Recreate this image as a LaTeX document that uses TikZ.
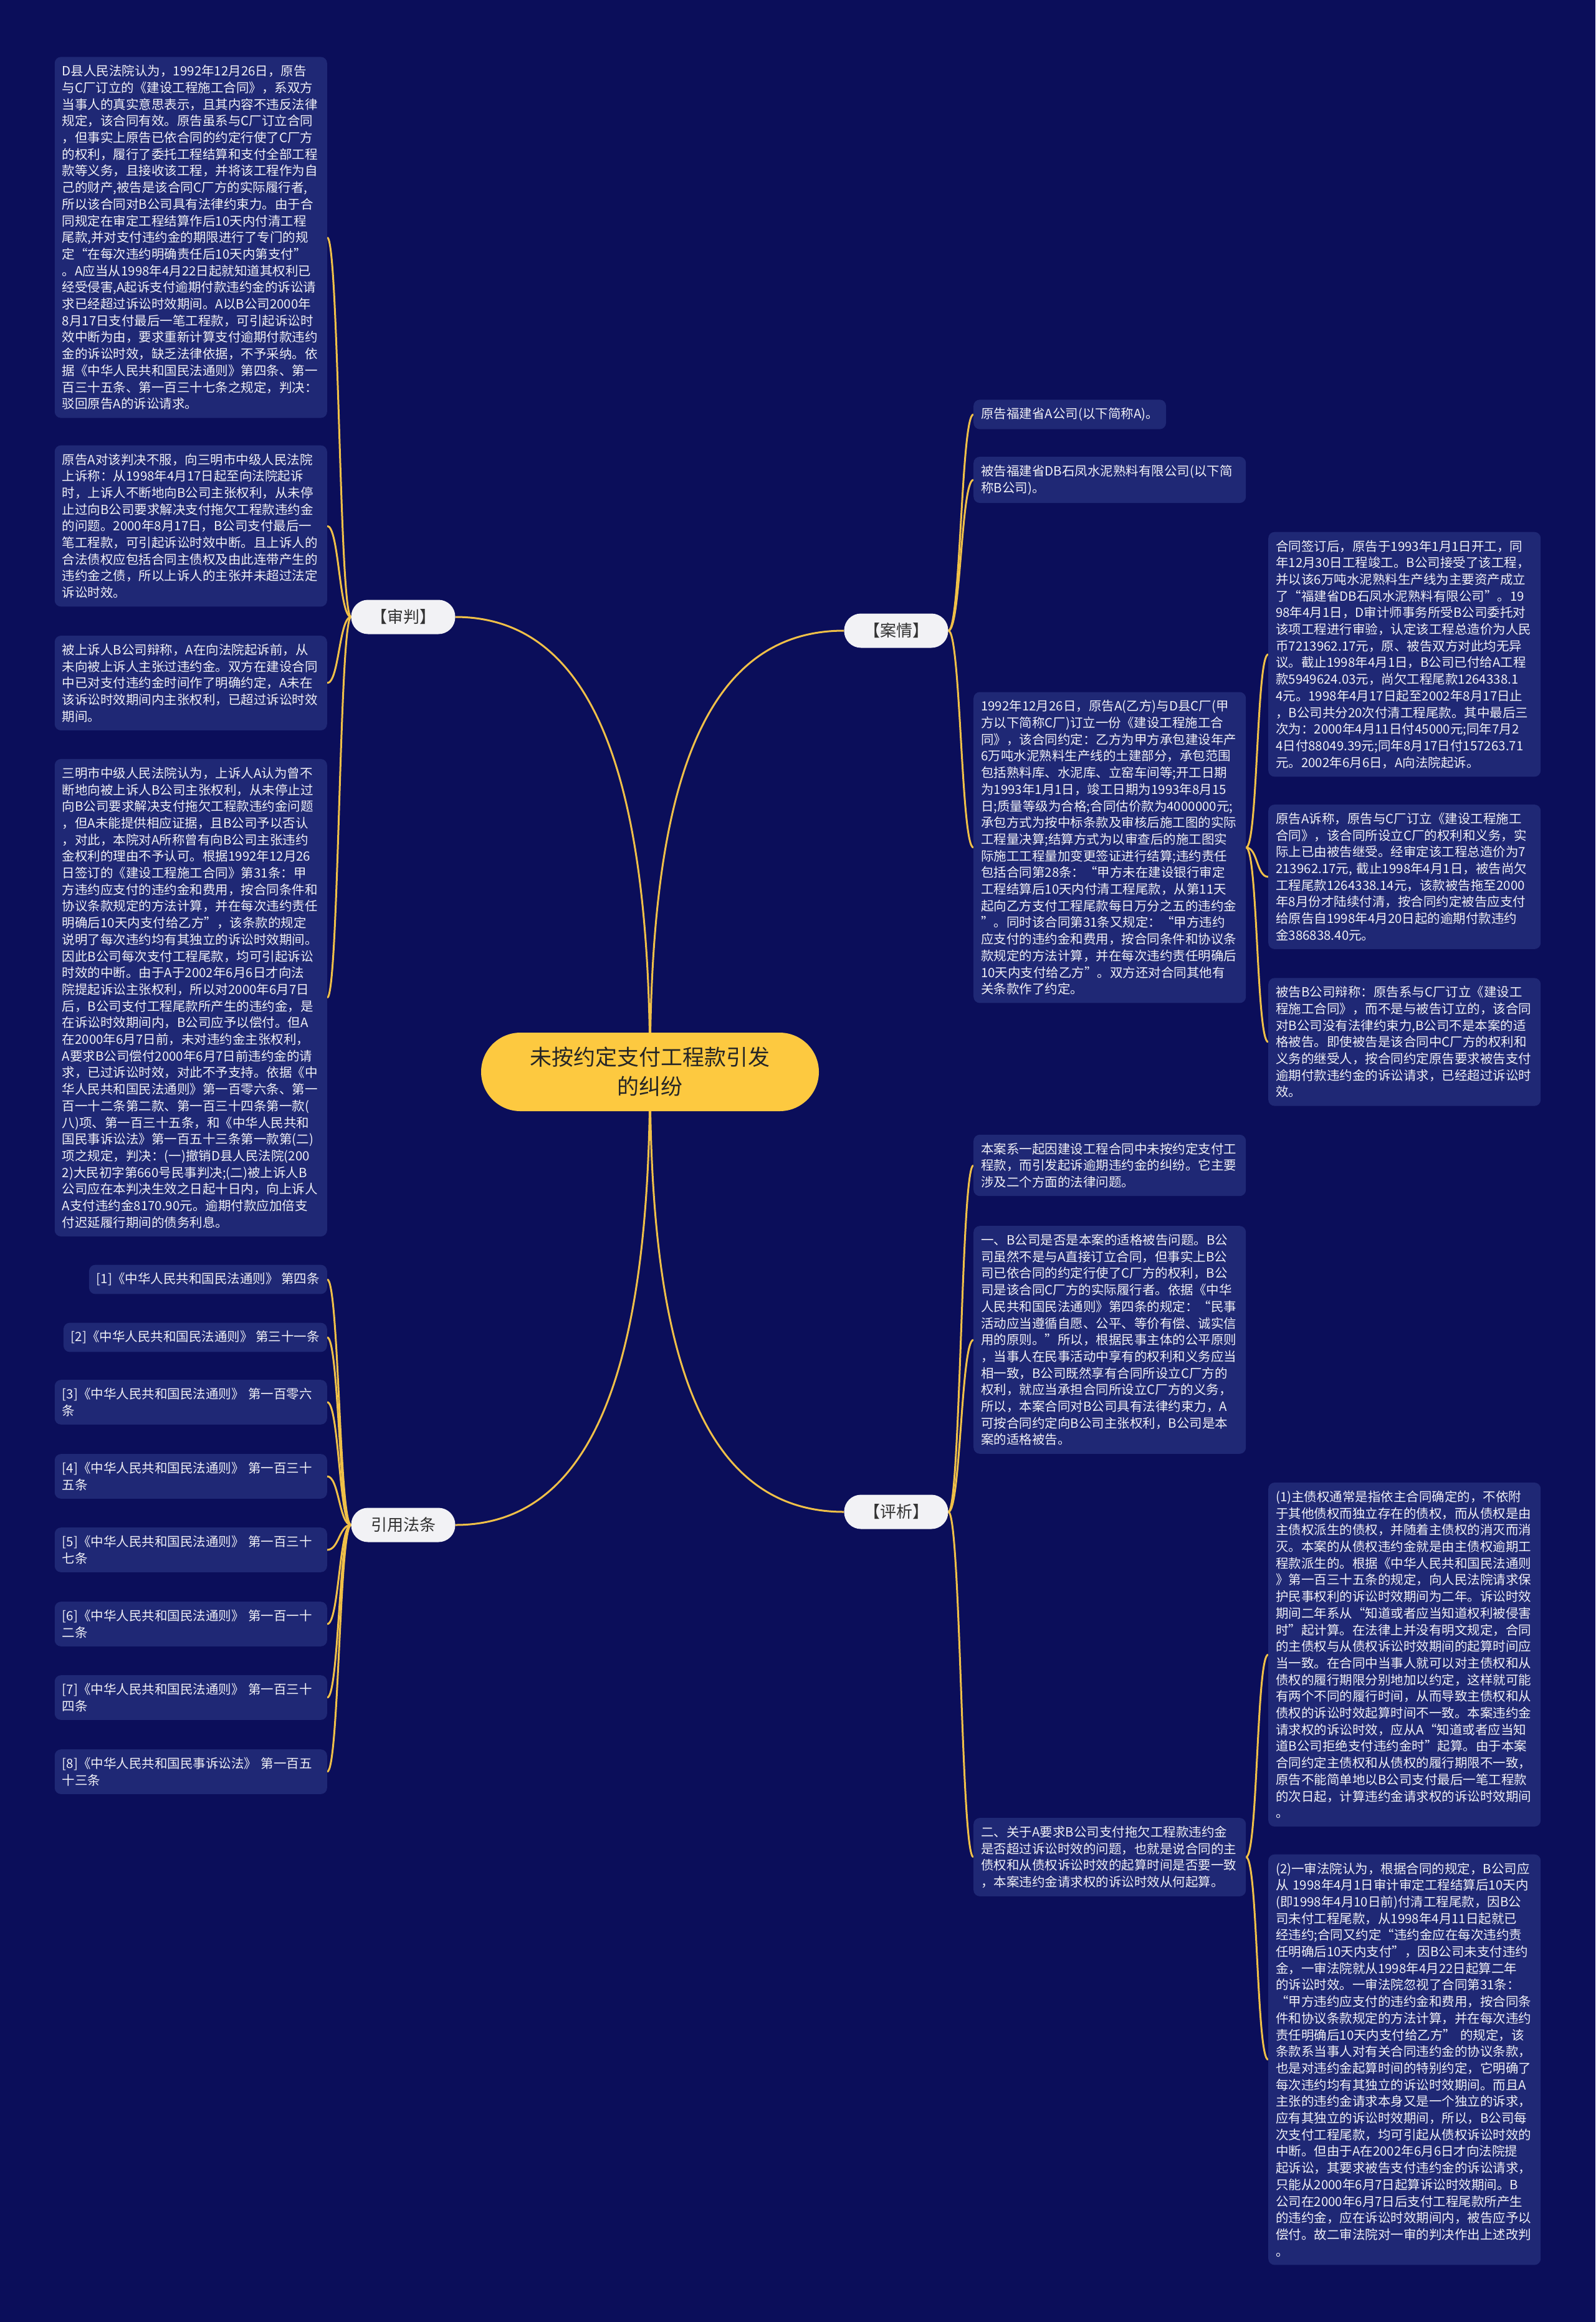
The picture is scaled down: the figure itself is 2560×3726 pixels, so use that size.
\documentclass[tikz,border=0pt]{standalone}
\usepackage{fontspec}
\setmainfont{Noto Sans CJK SC}
\definecolor{bgnavy}{RGB}{11,14,90}
\definecolor{leaffill}{RGB}{31,40,117}
\definecolor{linkgold}{RGB}{240,192,72}
\definecolor{rootgold}{RGB}{253,201,64}
\definecolor{pillgray}{RGB}{242,242,245}
\definecolor{inktext}{RGB}{240,240,246}
\pgfdeclarelayer{back}
\pgfdeclarelayer{lines}
\pgfsetlayers{back,lines,main}

\begin{document}
\begin{tikzpicture}[x=1pt, y=-1pt,
    root/.style={fill=rootgold, rounded corners=63pt, minimum width=542pt, minimum height=126pt, align=center, text=black!85, font=\fontsize{35}{47}\selectfont},
    topic/.style={fill=pillgray, rounded corners=27pt, minimum width=167pt, minimum height=55pt, text=black!80, font=\fontsize{26}{30}\selectfont},
    leaf/.style={fill=leaffill, rounded corners=10pt, inner xsep=12pt, inner ysep=13pt, text=inktext, align=left, font=\fontsize{20.5}{26.7}\selectfont},
    wide/.style={leaf, text width=413pt},
    link/.style={draw=linkgold, line width=3pt}]
    \useasboundingbox (0,0) rectangle (2560,3726);
    \begin{pgfonlayer}{back}
        \fill[bgnavy] (0,0) rectangle (2560,3726);
    \end{pgfonlayer}

    % Root and topics
    \node[root] (root) at (1043,1720) {未按约定支付工程款引发\\的纠纷};
    \node[topic] (trial) at (647,990) {【审判】};
    \node[topic] (facts) at (1438,1012) {【案情】};
    \node[topic] (laws) at (647,2447) {引用法条};
    \node[topic] (analysis) at (1438,2426) {【评析】};

    % Trial
    \node[wide, anchor=east] (trial1) at (525,381) {D县人民法院认为，1992年12月26日，原告\\
与C厂订立的《建设工程施工合同》，系双方\\
当事人的真实意思表示，且其内容不违反法律\\
规定，该合同有效。原告虽系与C厂订立合同\\
，但事实上原告已依合同的约定行使了C厂方\\
的权利，履行了委托工程结算和支付全部工程\\
款等义务，且接收该工程，并将该工程作为自\\
己的财产,被告是该合同C厂方的实际履行者,\\
所以该合同对B公司具有法律约束力。由于合\\
同规定在审定工程结算作后10天内付清工程\\
尾款,并对支付违约金的期限进行了专门的规\\
定“在每次违约明确责任后10天内第支付”\\
。A应当从1998年4月22日起就知道其权利已\\
经受侵害,A起诉支付逾期付款违约金的诉讼请\\
求已经超过诉讼时效期间。A以B公司2000年\\
8月17日支付最后一笔工程款，可引起诉讼时\\
效中断为由，要求重新计算支付逾期付款违约\\
金的诉讼时效，缺乏法律依据，不予采纳。依\\
据《中华人民共和国民法通则》第四条、第一\\
百三十五条、第一百三十七条之规定，判决：\\
驳回原告A的诉讼请求。};
    \node[wide, anchor=east] (trial2) at (525,844) {原告A对该判决不服，向三明市中级人民法院\\
上诉称：从1998年4月17日起至向法院起诉\\
时，上诉人不断地向B公司主张权利，从未停\\
止过向B公司要求解决支付拖欠工程款违约金\\
的问题。2000年8月17日，B公司支付最后一\\
笔工程款，可引起诉讼时效中断。且上诉人的\\
合法债权应包括合同主债权及由此连带产生的\\
违约金之债，所以上诉人的主张并未超过法定\\
诉讼时效。};
    \node[wide, anchor=east] (trial3) at (525,1096) {被上诉人B公司辩称，A在向法院起诉前，从\\
未向被上诉人主张过违约金。双方在建设合同\\
中已对支付违约金时间作了明确约定，A未在\\
该诉讼时效期间内主张权利，已超过诉讼时效\\
期间。};
    \node[wide, anchor=east] (trial4) at (525,1601) {三明市中级人民法院认为，上诉人A认为曾不\\
断地向被上诉人B公司主张权利，从未停止过\\
向B公司要求解决支付拖欠工程款违约金问题\\
，但A未能提供相应证据，且B公司予以否认\\
，对此，本院对A所称曾有向B公司主张违约\\
金权利的理由不予认可。根据1992年12月26\\
日签订的《建设工程施工合同》第31条：甲\\
方违约应支付的违约金和费用，按合同条件和\\
协议条款规定的方法计算，并在每次违约责任\\
明确后10天内支付给乙方”，该条款的规定\\
说明了每次违约均有其独立的诉讼时效期间。\\
因此B公司每次支付工程尾款，均可引起诉讼\\
时效的中断。由于A于2002年6月6日才向法\\
院提起诉讼主张权利，所以对2000年6月7日\\
后，B公司支付工程尾款所产生的违约金，是\\
在诉讼时效期间内，B公司应予以偿付。但A\\
在2000年6月7日前，未对违约金主张权利，\\
A要求B公司偿付2000年6月7日前违约金的请\\
求，已过诉讼时效，对此不予支持。依据《中\\
华人民共和国民法通则》第一百零六条、第一\\
百一十二条第二款、第一百三十四条第一款(\\
八)项、第一百三十五条，和《中华人民共和\\
国民事诉讼法》第一百五十三条第一款第(二)\\
项之规定，判决：(一)撤销D县人民法院(200\\
2)大民初字第660号民事判决;(二)被上诉人B\\
公司应在本判决生效之日起十日内，向上诉人\\
A支付违约金8170.90元。逾期付款应加倍支\\
付迟延履行期间的债务利息。};

    % Laws
    \node[leaf, anchor=east] (law1) at (525,2053) {[1]《中华人民共和国民法通则》 第四条};
    \node[leaf, anchor=east] (law2) at (525,2146) {[2]《中华人民共和国民法通则》 第三十一条};
    \node[wide, anchor=east] (law3) at (525,2250) {[3]《中华人民共和国民法通则》 第一百零六\\条};
    \node[wide, anchor=east] (law4) at (525,2369) {[4]《中华人民共和国民法通则》 第一百三十\\五条};
    \node[wide, anchor=east] (law5) at (525,2487) {[5]《中华人民共和国民法通则》 第一百三十\\七条};
    \node[wide, anchor=east] (law6) at (525,2606) {[6]《中华人民共和国民法通则》 第一百一十\\二条};
    \node[wide, anchor=east] (law7) at (525,2724) {[7]《中华人民共和国民法通则》 第一百三十\\四条};
    \node[wide, anchor=east] (law8) at (525,2843) {[8]《中华人民共和国民事诉讼法》 第一百五\\十三条};

    % Facts
    \node[leaf, anchor=west] (fact1) at (1562,665) {原告福建省A公司(以下简称A)。};
    \node[wide, anchor=west] (fact2) at (1562,770) {被告福建省DB石凤水泥熟料有限公司(以下简\\称B公司)。};
    \node[wide, anchor=west] (fact3) at (1562,1360) {1992年12月26日，原告A(乙方)与D县C厂(甲\\
方以下简称C厂)订立一份《建设工程施工合\\
同》，该合同约定：乙方为甲方承包建设年产\\
6万吨水泥熟料生产线的土建部分，承包范围\\
包括熟料库、水泥库、立窑车间等;开工日期\\
为1993年1月1日，竣工日期为1993年8月15\\
日;质量等级为合格;合同估价款为4000000元;\\
承包方式为按中标条款及审核后施工图的实际\\
工程量决算;结算方式为以审查后的施工图实\\
际施工工程量加变更签证进行结算;违约责任\\
包括合同第28条：“甲方未在建设银行审定\\
工程结算后10天内付清工程尾款，从第11天\\
起向乙方支付工程尾款每日万分之五的违约金\\
”。同时该合同第31条又规定：“甲方违约\\
应支付的违约金和费用，按合同条件和协议条\\
款规定的方法计算，并在每次违约责任明确后\\
10天内支付给乙方”。双方还对合同其他有\\
关条款作了约定。};
    \node[wide, anchor=west] (fact4) at (2035,1050) {合同签订后，原告于1993年1月1日开工，同\\
年12月30日工程竣工。B公司接受了该工程，\\
并以该6万吨水泥熟料生产线为主要资产成立\\
了“福建省DB石凤水泥熟料有限公司”。19\\
98年4月1日，D审计师事务所受B公司委托对\\
该项工程进行审验，认定该工程总造价为人民\\
币7213962.17元，原、被告双方对此均无异\\
议。截止1998年4月1日，B公司已付给A工程\\
款5949624.03元，尚欠工程尾款1264338.1\\
4元。1998年4月17日起至2002年8月17日止\\
，B公司共分20次付清工程尾款。其中最后三\\
次为：2000年4月11日付45000元;同年7月2\\
4日付88049.39元;同年8月17日付157263.71\\
元。2002年6月6日，A向法院起诉。};
    \node[wide, anchor=west] (fact5) at (2035,1407) {原告A诉称，原告与C厂订立《建设工程施工\\
合同》，该合同所设立C厂的权利和义务，实\\
际上已由被告继受。经审定该工程总造价为7\\
213962.17元, 截止1998年4月1日，被告尚欠\\
工程尾款1264338.14元，该款被告拖至2000\\
年8月份才陆续付清，按合同约定被告应支付\\
给原告自1998年4月20日起的逾期付款违约\\
金386838.40元。};
    \node[wide, anchor=west] (fact6) at (2035,1672) {被告B公司辩称：原告系与C厂订立《建设工\\
程施工合同》，而不是与被告订立的，该合同\\
对B公司没有法律约束力,B公司不是本案的适\\
格被告。即使被告是该合同中C厂方的权利和\\
义务的继受人，按合同约定原告要求被告支付\\
逾期付款违约金的诉讼请求，已经超过诉讼时\\
效。};

    % Analysis
    \node[wide, anchor=west] (ana1) at (1562,1870) {本案系一起因建设工程合同中未按约定支付工\\
程款，而引发起诉逾期违约金的纠纷。它主要\\
涉及二个方面的法律问题。};
    \node[wide, anchor=west] (ana2) at (1562,2150) {一、B公司是否是本案的适格被告问题。B公\\
司虽然不是与A直接订立合同，但事实上B公\\
司已依合同的约定行使了C厂方的权利，B公\\
司是该合同C厂方的实际履行者。依据《中华\\
人民共和国民法通则》第四条的规定：“民事\\
活动应当遵循自愿、公平、等价有偿、诚实信\\
用的原则。”所以，根据民事主体的公平原则\\
，当事人在民事活动中享有的权利和义务应当\\
相一致，B公司既然享有合同所设立C厂方的\\
权利，就应当承担合同所设立C厂方的义务，\\
所以，本案合同对B公司具有法律约束力，A\\
可按合同约定向B公司主张权利，B公司是本\\
案的适格被告。};
    \node[wide, anchor=west] (ana3) at (1562,2980) {二、关于A要求B公司支付拖欠工程款违约金\\
是否超过诉讼时效的问题，也就是说合同的主\\
债权和从债权诉讼时效的起算时间是否要一致\\
，本案违约金请求权的诉讼时效从何起算。};
    \node[wide, anchor=west] (ana4) at (2035,2655) {(1)主债权通常是指依主合同确定的，不依附\\
于其他债权而独立存在的债权，而从债权是由\\
主债权派生的债权，并随着主债权的消灭而消\\
灭。本案的从债权违约金就是由主债权逾期工\\
程款派生的。根据《中华人民共和国民法通则\\
》第一百三十五条的规定，向人民法院请求保\\
护民事权利的诉讼时效期间为二年。诉讼时效\\
期间二年系从“知道或者应当知道权利被侵害\\
时”起计算。在法律上并没有明文规定，合同\\
的主债权与从债权诉讼时效期间的起算时间应\\
当一致。在合同中当事人就可以对主债权和从\\
债权的履行期限分别地加以约定，这样就可能\\
有两个不同的履行时间，从而导致主债权和从\\
债权的诉讼时效起算时间不一致。本案违约金\\
请求权的诉讼时效，应从A“知道或者应当知\\
道B公司拒绝支付违约金时”起算。由于本案\\
合同约定主债权和从债权的履行期限不一致，\\
原告不能简单地以B公司支付最后一笔工程款\\
的次日起，计算违约金请求权的诉讼时效期间\\
。};
    \node[wide, anchor=west] (ana5) at (2035,3305) {(2)一审法院认为，根据合同的规定，B公司应\\
从 1998年4月1日审计审定工程结算后10天内\\
(即1998年4月10日前)付清工程尾款，因B公\\
司未付工程尾款，从1998年4月11日起就已\\
经违约;合同又约定“违约金应在每次违约责\\
任明确后10天内支付”，因B公司未支付违约\\
金，一审法院就从1998年4月22日起算二年\\
的诉讼时效。一审法院忽视了合同第31条：\\
“甲方违约应支付的违约金和费用，按合同条\\
件和协议条款规定的方法计算，并在每次违约\\
责任明确后10天内支付给乙方” 的规定，该\\
条款系当事人对有关合同违约金的协议条款，\\
也是对违约金起算时间的特别约定，它明确了\\
每次违约均有其独立的诉讼时效期间。而且A\\
主张的违约金请求本身又是一个独立的诉求，\\
应有其独立的诉讼时效期间，所以，B公司每\\
次支付工程尾款，均可引起从债权诉讼时效的\\
中断。但由于A在2002年6月6日才向法院提\\
起诉讼，其要求被告支付违约金的诉讼请求，\\
只能从2000年6月7日起算诉讼时效期间。B\\
公司在2000年6月7日后支付工程尾款所产生\\
的违约金，应在诉讼时效期间内，被告应予以\\
偿付。故二审法院对一审的判决作出上述改判\\
。};

    % Links
    \begin{pgfonlayer}{lines}
        \draw[link] (root.center) .. controls +(0,-400) and +(250,0) .. (trial.east);
        \draw[link] (root.center) .. controls +(0,-400) and +(-250,0) .. (facts.west);
        \draw[link] (root.center) .. controls +(0,400) and +(250,0) .. (laws.east);
        \draw[link] (root.center) .. controls +(0,400) and +(-250,0) .. (analysis.west);
        \foreach \n in {trial1,trial2,trial3,trial4} {
            \draw[link] (trial.west) .. controls +(-19,0) and +(19,0) .. (\n.east);
        }
        \foreach \n in {law1,law2,law3,law4,law5,law6,law7,law8} {
            \draw[link] (laws.west) .. controls +(-19,0) and +(19,0) .. (\n.east);
        }
        \foreach \n in {fact1,fact2,fact3} {
            \draw[link] (facts.east) .. controls +(20,0) and +(-20,0) .. (\n.west);
        }
        \foreach \n in {fact4,fact5,fact6} {
            \draw[link] (fact3.east) .. controls +(19,0) and +(-19,0) .. (\n.west);
        }
        \foreach \n in {ana1,ana2,ana3} {
            \draw[link] (analysis.east) .. controls +(20,0) and +(-20,0) .. (\n.west);
        }
        \foreach \n in {ana4,ana5} {
            \draw[link] (ana3.east) .. controls +(19,0) and +(-19,0) .. (\n.west);
        }
    \end{pgfonlayer}
\end{tikzpicture}
\end{document}
